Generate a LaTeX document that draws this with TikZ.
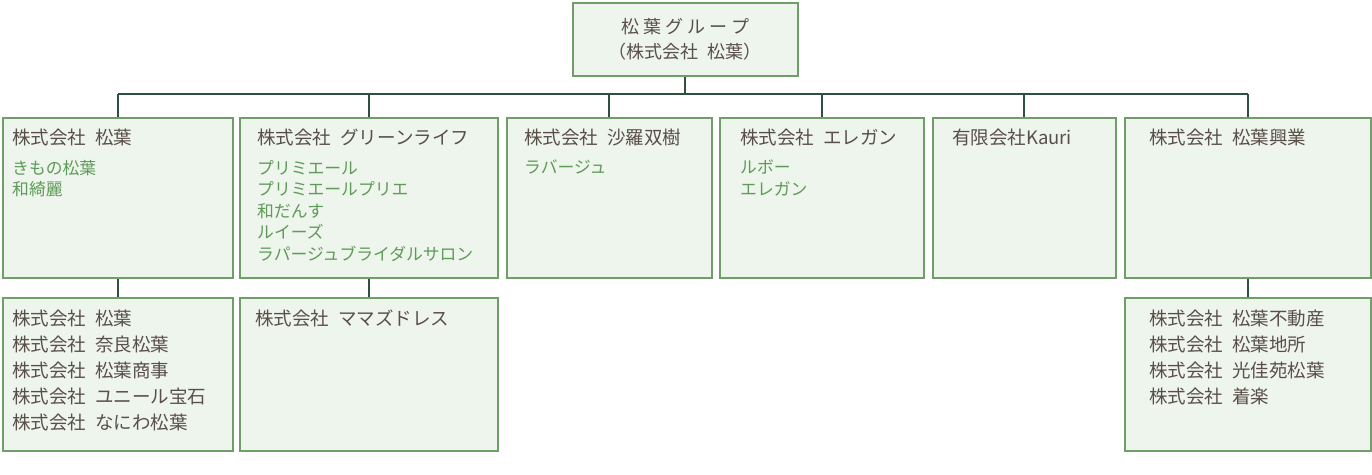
\documentclass[tikz,border=0pt]{standalone}
\usepackage{fontspec}
\setmainfont{Noto Sans CJK JP}
\usetikzlibrary{positioning}
\definecolor{BoxFill}{HTML}{EEF5EC}
\definecolor{BoxLine}{HTML}{6F9E69}
\definecolor{LinkColor}{HTML}{2F4F3F}
\definecolor{NameColor}{HTML}{5A4F48}
\definecolor{BrandColor}{HTML}{5E9A58}
\newcommand{\gap}{\hspace{0.5em}}
\begin{document}
\begin{tikzpicture}[
    x=1pt, y=-1pt,
    company/.style = {draw=BoxLine, fill=BoxFill, line width=1.6pt, anchor=north west, inner sep=0pt},
    title/.style = {anchor=north west, inner sep=0pt, text=NameColor, font=\fontsize{18.5}{22}\selectfont},
    brands/.style = {anchor=north west, inner sep=0pt, text=BrandColor, align=left, font=\fontsize{16.8}{21.5}\selectfont},
    members/.style = {anchor=north west, inner sep=0pt, text=NameColor, align=left, font=\fontsize{18.5}{26}\selectfont},
    link/.style = {draw=LinkColor, line width=1.8pt},
  ]
  \useasboundingbox (0,0) rectangle (1372,474);
  % ┌────────────┐
  % │ Holding    │
  % └────────────┘
  \node[company, minimum width=225pt, minimum height=73pt] (group) at (572,2) {};
  \node[text=NameColor, align=center, font=\fontsize{18}{25}\selectfont] (grouptext) at (group.center) {松 葉 グ ル ー プ\\（株式会社\gap 松葉）};
  % ┌────────────┐
  % │ Level 1    │
  % └────────────┘
  \node[company, minimum width=230pt, minimum height=160pt] (matsuba) at (2,117) {};
  \node[company, minimum width=258pt, minimum height=160pt] (greenlife) at (239,117) {};
  \node[company, minimum width=205pt, minimum height=160pt] (shara) at (506,117) {};
  \node[company, minimum width=204pt, minimum height=160pt] (elegan) at (719,117) {};
  \node[company, minimum width=183pt, minimum height=160pt] (kauri) at (932,117) {};
  \node[company, minimum width=246pt, minimum height=160pt] (kogyo) at (1124,117) {};
  \node[title] (matsubatitle) at (12,129) {株式会社\gap 松葉};
  \node[title] (greenlifetitle) at (257,129) {株式会社\gap グリーンライフ};
  \node[title] (sharatitle) at (524,129) {株式会社\gap 沙羅双樹};
  \node[title] (elegantitle) at (740,129) {株式会社\gap エレガン};
  \node[title] (kaurititle) at (952,129) {有限会社Kauri};
  \node[title] (kogyotitle) at (1149,129) {株式会社\gap 松葉興業};
  \node[brands] (matsubabrands) at (12,160) {きもの松葉\\和綺麗};
  \node[brands] (greenlifebrands) at (257,160) {プリミエール\\プリミエールプリエ\\和だんす\\ルイーズ\\ラパージュブライダルサロン};
  \node[brands] (sharabrands) at (524,160) {ラバージュ};
  \node[brands] (eleganbrands) at (740,160) {ルボー\\エレガン};
  % ┌────────────┐
  % │ Level 2    │
  % └────────────┘
  \node[company, minimum width=230pt, minimum height=153pt] (matsubasub) at (2,297) {};
  \node[company, minimum width=258pt, minimum height=153pt] (greenlifesub) at (239,297) {};
  \node[company, minimum width=246pt, minimum height=153pt] (kogyosub) at (1124,297) {};
  \node[members] (matsubamembers) at (12,310) {株式会社\gap 松葉\\株式会社\gap 奈良松葉\\株式会社\gap 松葉商事\\株式会社\gap ユニール宝石\\株式会社\gap なにわ松葉};
  \node[members] (greenlifemembers) at (255,310) {株式会社\gap ママズドレス};
  \node[members] (kogyomembers) at (1149,310) {株式会社\gap 松葉不動産\\株式会社\gap 松葉地所\\株式会社\gap 光佳苑松葉\\株式会社\gap 着楽};
  % ┌────────────┐
  % │ Links      │
  % └────────────┘
  \coordinate (busleft) at (matsuba.north |- 0,94);
  \coordinate (busright) at (kogyo.north |- 0,94);
  \draw[link] (group.south) -- (group.south |- busleft);
  \draw[link] (busleft) -- (busright);
  \foreach \child in {matsuba, greenlife, shara, elegan, kauri, kogyo}
    \draw[link] (\child.north |- busleft) -- (\child.north);
  \draw[link] (matsuba.south) -- (matsubasub.north);
  \draw[link] (greenlife.south) -- (greenlifesub.north);
  \draw[link] (kogyo.south) -- (kogyosub.north);
\end{tikzpicture}
\end{document}
